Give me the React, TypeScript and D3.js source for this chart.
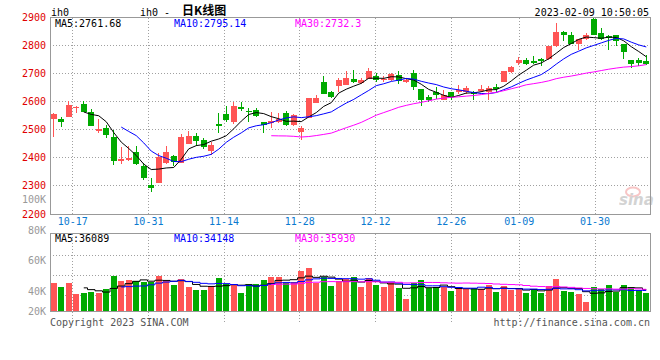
import React from "react";
import * as d3 from "d3";

// daily K-line for ih0, 80 sessions
const openP = [2537, 2538, 2547, 2577, 2592, 2563, 2497, 2508, 2475, 2388, 2391, 2420, 2370, 2303, 2310, 2382, 2406, 2382, 2451, 2477, 2463, 2425, 2519, 2556, 2529, 2580, 2568, 2571, 2526, 2525, 2529, 2559, 2517, 2493, 2543, 2597, 2669, 2633, 2657, 2660, 2681, 2666, 2681, 2690, 2676, 2678, 2696, 2669, 2704, 2645, 2618, 2633, 2606, 2633, 2633, 2633, 2633, 2639, 2633, 2651, 2670, 2706, 2738, 2750, 2744, 2752, 2752, 2798, 2848, 2839, 2804, 2822, 2893, 2845, 2833, 2836, 2804, 2747, 2750, 2746];
const closeP = [2556, 2526, 2588, 2582, 2565, 2513, 2502, 2481, 2389, 2395, 2400, 2377, 2328, 2292, 2403, 2420, 2385, 2475, 2477, 2461, 2439, 2445, 2514, 2535, 2585, 2575, 2563, 2549, 2516, 2531, 2538, 2517, 2552, 2507, 2615, 2615, 2628, 2618, 2678, 2684, 2669, 2678, 2710, 2678, 2681, 2698, 2675, 2678, 2654, 2606, 2606, 2624, 2624, 2616, 2642, 2648, 2628, 2645, 2648, 2647, 2708, 2722, 2750, 2734, 2738, 2746, 2798, 2848, 2836, 2807, 2822, 2839, 2838, 2824, 2827, 2818, 2777, 2734, 2738, 2734];
const highP = [2559, 2545, 2603, 2585, 2603, 2573, 2537, 2517, 2499, 2439, 2444, 2442, 2382, 2329, 2419, 2442, 2409, 2485, 2495, 2489, 2469, 2457, 2559, 2585, 2600, 2600, 2577, 2577, 2526, 2565, 2559, 2567, 2555, 2513, 2615, 2624, 2690, 2639, 2684, 2708, 2714, 2684, 2720, 2702, 2692, 2704, 2708, 2684, 2714, 2645, 2624, 2652, 2642, 2636, 2660, 2657, 2639, 2660, 2657, 2663, 2710, 2728, 2758, 2756, 2764, 2756, 2798, 2881, 2851, 2848, 2825, 2845, 2900, 2863, 2839, 2839, 2804, 2747, 2756, 2767];
const lowP = [2475, 2511, 2547, 2561, 2565, 2513, 2489, 2471, 2373, 2379, 2389, 2373, 2320, 2280, 2310, 2377, 2371, 2382, 2449, 2442, 2431, 2409, 2487, 2529, 2520, 2568, 2529, 2547, 2487, 2508, 2523, 2513, 2513, 2463, 2543, 2597, 2628, 2615, 2636, 2660, 2666, 2664, 2681, 2669, 2672, 2675, 2663, 2666, 2642, 2585, 2600, 2609, 2606, 2606, 2628, 2628, 2606, 2636, 2606, 2636, 2670, 2702, 2732, 2732, 2734, 2729, 2750, 2795, 2818, 2807, 2783, 2819, 2838, 2819, 2783, 2798, 2752, 2720, 2729, 2731];
const volume = [47300, 40600, 47300, 28400, 30600, 32300, 30600, 36800, 59000, 50600, 52300, 50100, 49000, 48000, 59000, 50100, 43400, 53500, 40600, 35100, 35100, 41800, 55600, 45100, 43400, 30600, 45100, 45100, 51800, 57300, 57300, 47300, 49000, 67300, 71400, 47300, 56300, 41800, 50600, 53500, 56800, 40100, 55100, 43400, 40100, 48500, 38400, 20100, 46800, 51800, 38400, 40100, 40100, 33400, 36800, 36800, 38400, 36800, 43400, 31700, 41800, 35100, 36800, 30100, 36800, 30100, 41800, 53500, 33400, 31700, 28400, 15000, 40100, 36800, 43400, 31700, 43400, 40100, 35100, 30100];

const dateIdx = [3, 13, 23, 33, 43, 53, 62, 72];
const dateLabels = ["10-17", "10-31", "11-14", "11-28", "12-12", "12-26", "01-09", "01-30"];
const priceTicks = [2900, 2800, 2700, 2600, 2500, 2400, 2300, 2200];
const volTicks = [100000, 80000, 60000, 40000, 20000];
const volTickLabels = ["100K", "80K", "60K", "40K", "20K"];
const volGrid = [92500, 59000, 25600];

const priceMaLabels = ["MA5:2761.68", "MA10:2795.14", "MA30:2732.3"];
const volMaLabels = ["MA5:36089", "MA10:34148", "MA30:35930"];
const maPeriods = [5, 10, 30];
const maColors = ["#000000", "#0000ff", "#ff00ff"];

const UP = "#ff5555";
const DOWN = "#00aa00";
const GRID = "#a0a0a0";
const MONO = "'DejaVu Sans Mono', monospace";

const left = 50;
const right = 650;
const pTop = 17.5;
const pBottom = 214;
const vTop = 233.5;
const vBottom = 311;

function movingAvg(arr: number[], n: number) {
  return arr.map((_, i) => (i < n - 1 ? null : d3.mean(arr.slice(i - n + 1, i + 1))!));
}

export default function App() {
  const idx = d3.range(closeP.length);
  const x = d3.scaleBand<number>().domain(idx).range([left, right]).paddingInner(0.2).paddingOuter(0.1);
  const gridX = d3.scalePoint<number>().domain(idx).range([left, 648]);
  const cx = (i: number) => x(i)! + x.bandwidth() / 2;

  const y = d3.scaleLinear().domain([2200, 2900]).range([pBottom, pTop]);
  const yVol = d3.scaleLinear().domain([0, 130000]).range([vBottom, vTop]);
  const volLabelY = d3.scaleLinear().domain([40000, 80000]).range([291, 230]);

  const priceLine = (vals: (number | null)[]) =>
    d3.line<number | null>().defined((d) => d !== null).x((_, i) => cx(i)).y((d) => y(d as number))(vals) || "";
  const volLine = (vals: (number | null)[]) =>
    d3.line<number | null>().defined((d) => d !== null).x((_, i) => cx(i)).y((d) => yVol(d as number)).curve(d3.curveStep)(vals) || "";

  return (
    <svg width={660} height={360} style={{ position: "absolute", left: 0, top: 0, background: "#fff" }} fontFamily={MONO} fontSize={10}>
      <rect x={0} y={0} width={660} height={360} fill="#fff" />
      {/* header */}
      <text x={51} y={15.5} fill="#000">ih0</text>
      <text x={140} y={15.5} fill="#000">ih0 -</text>
      <text x={182} y={15} fill="#000" fontFamily="'Noto Sans CJK SC', sans-serif" fontWeight="bold" fontSize={12}>日K线图</text>
      <text x={649} y={16} fill="#000" textAnchor="end">2023-02-09 10:50:05</text>

      {/* price grid */}
      <g shapeRendering="crispEdges">
        {priceTicks.slice(1, -1).map((t) => (
          <line key={t} x1={left} x2={right} y1={y(t)} y2={y(t)} stroke={GRID} strokeDasharray="1,2" />
        ))}
        {dateIdx.map((d) => (
          <line key={"pg" + d} x1={gridX(d)} x2={gridX(d)} y1={pTop} y2={pBottom} stroke={GRID} strokeDasharray="1,2" />
        ))}
        {dateIdx.map((d) => (
          <line key={"vg" + d} x1={gridX(d)} x2={gridX(d)} y1={vTop} y2={322} stroke={GRID} strokeDasharray="1,2" />
        ))}
        {volGrid.map((g) => (
          <line key={"vh" + g} x1={left} x2={right} y1={yVol(g)} y2={yVol(g)} stroke={GRID} strokeDasharray="1,2" />
        ))}
      </g>

      {/* watermark */}
      <g opacity={0.45}>
        <ellipse cx={633} cy={192} rx={7} ry={4.5} fill="none" stroke="#f08080" strokeWidth={2} />
        <text x={619} y={205} fill="#a0a0a0" fontFamily="'DejaVu Sans', sans-serif" fontStyle="italic" fontWeight="bold" fontSize={15}>sina</text>
      </g>

      {/* candles */}
      <g shapeRendering="crispEdges">
        {idx.map((i) => {
          const up = closeP[i] >= openP[i];
          const c = up ? UP : DOWN;
          const top = y(Math.max(openP[i], closeP[i]));
          const bot = y(Math.min(openP[i], closeP[i]));
          const wx = Math.floor(cx(i)) + 0.5;
          return (
            <g key={i}>
              <line x1={wx} x2={wx} y1={y(highP[i])} y2={y(lowP[i])} stroke={c} />
              <rect x={x(i)} y={top} width={x.bandwidth()} height={Math.max(1, bot - top)} fill={c} />
            </g>
          );
        })}
      </g>

      {/* price moving averages */}
      <g fill="none" strokeWidth={1}>
        {maPeriods.map((p, k) => (
          <path key={p} d={priceLine(movingAvg(closeP, p))} stroke={maColors[k]} />
        ))}
      </g>

      {/* volume bars */}
      <g shapeRendering="crispEdges">
        {idx.map((i) => (
          <rect key={i} x={x(i)} y={yVol(volume[i])} width={x.bandwidth()} height={vBottom - yVol(volume[i])} fill={closeP[i] >= openP[i] ? UP : DOWN} />
        ))}
      </g>
      <g fill="none" strokeWidth={1}>
        {maPeriods.map((p, k) => (
          <path key={p} d={volLine(movingAvg(volume, p))} stroke={maColors[k]} />
        ))}
      </g>

      {/* frames */}
      <g fill="none" stroke="#999" shapeRendering="crispEdges">
        <rect x={left} y={pTop} width={right - left} height={pBottom - pTop} />
        <rect x={left} y={vTop} width={right - left} height={vBottom - vTop} />
      </g>

      {/* price axis labels */}
      {priceTicks.map((t) => (
        <text key={t} x={46} y={y(t) + 3.5} textAnchor="end" fill="#e00000">{t}</text>
      ))}
      {volTicks.map((t, k) => (
        <text key={t} x={46} y={Math.min(volLabelY(t), 311) + 3.5} textAnchor="end" fill="#999">{volTickLabels[k]}</text>
      ))}
      {dateIdx.map((d, k) => (
        <text key={d} x={gridX(d)} y={225} textAnchor="middle" fill="#0a7ad0">{dateLabels[k]}</text>
      ))}

      {/* MA legends */}
      {priceMaLabels.map((s, k) => (
        <text key={s} x={[55, 174, 295][k]} y={27} fill={maColors[k]}>{s}</text>
      ))}
      {volMaLabels.map((s, k) => (
        <text key={s} x={[55, 174, 295][k]} y={242} fill={maColors[k]}>{s}</text>
      ))}

      {/* footer */}
      <text x={50} y={326} fill="#555">Copyright 2023 SINA.COM</text>
      <text x={650} y={326} textAnchor="end" fill="#555">http://finance.sina.com.cn</text>
    </svg>
  );
}
